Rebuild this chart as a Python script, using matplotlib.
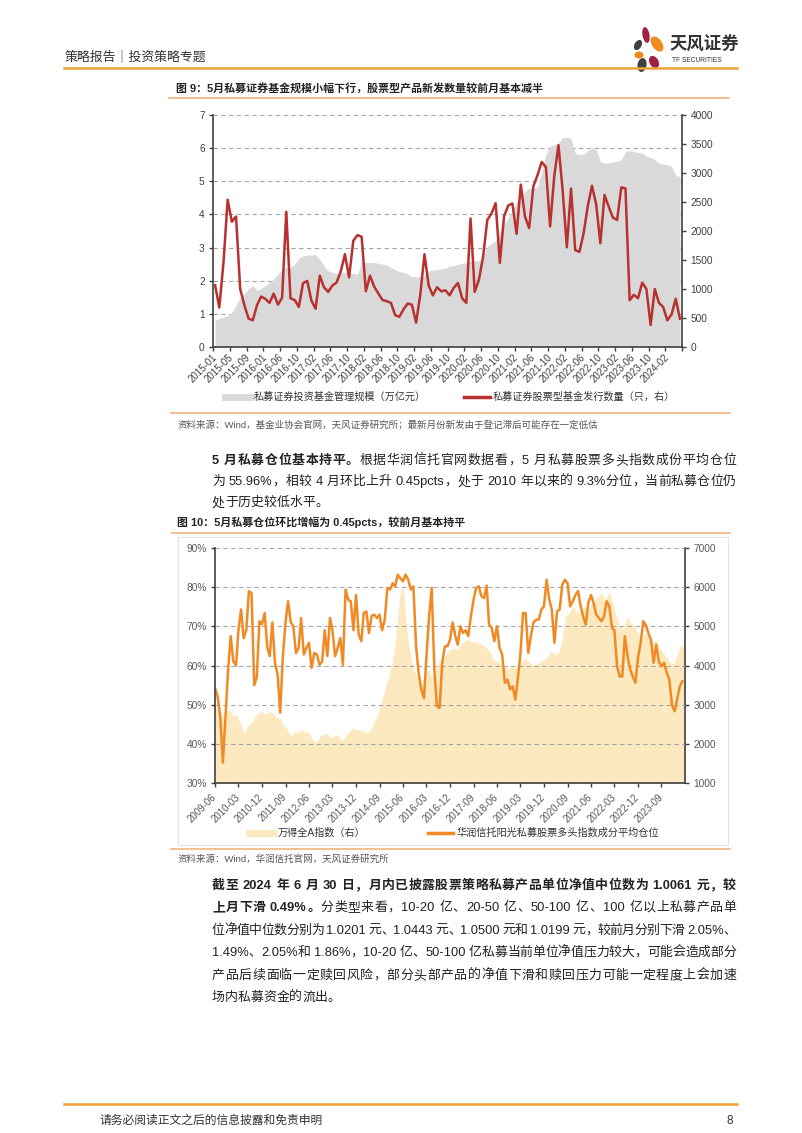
import numpy as np
import pandas as pd
import matplotlib
matplotlib.use('Agg')
import matplotlib.pyplot as plt
from matplotlib.patches import Ellipse, Rectangle
from matplotlib.lines import Line2D

plt.rcParams['font.family'] = ['Liberation Sans', 'Noto Sans CJK SC']
plt.rcParams['axes.unicode_minus'] = False

W, H = 802, 1133

# ---- chart 1 : private fund AUM (left, 万亿元) and new equity funds (right, count)
c1_ticklabels = ['2015-01', '2015-05', '2015-09', '2016-01', '2016-06', '2016-10', '2017-02',
                 '2017-06', '2017-10', '2018-02', '2018-06', '2018-10', '2019-02', '2019-06',
                 '2019-10', '2020-02', '2020-06', '2020-10', '2021-02', '2021-06', '2021-10',
                 '2022-02', '2022-06', '2022-10', '2023-02', '2023-06', '2023-10', '2024-02']
c1_aum = [0.81, 0.86, 0.90, 0.95, 1.05, 1.25, 1.50, 1.62, 1.75, 1.86,
          1.70, 1.77, 1.85, 1.95, 2.05, 2.20, 2.35, 2.40, 2.40, 2.50,
          2.68, 2.75, 2.77, 2.78, 2.78, 2.65, 2.45, 2.30, 2.25, 2.22,
          2.25, 2.25, 2.22, 2.22, 2.20, 2.55, 2.55, 2.55, 2.55, 2.52,
          2.50, 2.48, 2.40, 2.33, 2.28, 2.25, 2.20, 2.12, 2.12, 2.12,
          2.15, 2.30, 2.32, 2.33, 2.36, 2.37, 2.45, 2.45, 2.50, 2.52,
          2.55, 2.58, 2.60, 2.60, 2.70, 3.05, 3.12, 3.20, 3.45, 3.70,
          3.90, 4.10, 4.40, 4.55, 4.70, 4.78, 4.80, 4.83, 5.30, 5.80,
          6.05, 6.10, 6.15, 6.32, 6.32, 6.30, 5.85, 5.80, 5.82, 5.92,
          6.00, 5.95, 5.60, 5.55, 5.55, 5.58, 5.60, 5.65, 5.90, 5.92,
          5.90, 5.87, 5.85, 5.75, 5.72, 5.66, 5.55, 5.52, 5.50, 5.45,
          5.17, 5.15]
c1_issue = [1065, 680, 1450, 2540, 2160, 2250, 1000, 720, 490, 460,
            720, 870, 830, 760, 920, 730, 850, 2330, 840, 810,
            690, 1100, 1140, 800, 660, 1230, 1030, 950, 1060, 1110,
            1300, 1600, 1200, 1830, 1930, 1900, 960, 1230, 1040, 920,
            810, 790, 760, 550, 520, 650, 750, 730, 420, 900,
            1600, 1060, 890, 1030, 960, 978, 892, 1020, 1105, 840,
            760, 2215, 950, 1160, 1554, 2190, 2300, 2480, 1450, 2250,
            2440, 2474, 1950, 2800, 2250, 2050, 2770, 2964, 3190, 3100,
            2080, 2950, 3480, 2700, 1720, 2730, 1670, 1640, 1960, 2430,
            2780, 2460, 1790, 2620, 2420, 2230, 2190, 2751, 2734, 805,
            900, 840, 1110, 1000, 380, 1000, 760, 690, 460, 560,
            830, 489]

# ---- chart 2 : private fund average position (left, %) and Wind All A (right)
c2_ticklabels = ['2009-06', '2010-03', '2010-12', '2011-09', '2012-06', '2013-03', '2013-12',
                 '2014-09', '2015-06', '2016-03', '2016-12', '2017-09', '2018-06', '2019-03',
                 '2019-12', '2020-09', '2021-06', '2022-03', '2022-12', '2023-09']
c2_position = [54.3, 52.2, 47.0, 35.2, 47.0, 59.0, 67.5, 61.0, 60.0, 69.0,
               74.3, 67.0, 69.0, 79.0, 78.5, 55.0, 57.0, 71.3, 70.5, 73.4,
               64.5, 62.4, 71.0, 60.7, 57.7, 48.0, 62.4, 71.0, 76.4, 71.0,
               70.0, 63.2, 64.5, 72.1, 62.8, 64.5, 65.8, 59.4, 63.2, 62.8,
               60.2, 61.0, 69.0, 62.4, 72.1, 69.0, 62.4, 64.5, 67.0, 60.2,
               79.4, 76.8, 76.4, 69.0, 78.0, 68.0, 66.2, 73.4, 73.8, 68.3,
               72.6, 73.0, 72.1, 73.0, 69.0, 71.7, 79.8, 79.4, 81.0, 80.2,
               83.2, 82.3, 81.5, 83.2, 81.9, 79.4, 80.2, 64.9, 58.1, 53.9,
               51.7, 62.4, 72.6, 79.8, 59.0, 49.6, 49.2, 60.7, 64.9, 64.9,
               66.6, 71.0, 67.5, 65.3, 70.0, 68.3, 69.0, 67.5, 72.6, 76.8,
               79.8, 80.2, 77.7, 77.2, 80.4, 70.4, 69.6, 66.2, 70.0, 64.5,
               62.8, 55.6, 56.4, 53.9, 54.7, 51.3, 57.0, 62.8, 73.4, 73.4,
               63.2, 67.5, 71.0, 71.7, 71.7, 74.3, 75.1, 81.9, 76.8, 74.3,
               65.8, 73.8, 74.3, 80.6, 81.9, 81.0, 75.1, 76.4, 78.0, 79.0,
               75.1, 72.6, 70.4, 76.0, 78.0, 76.0, 73.0, 72.1, 71.3, 72.6,
               76.4, 75.1, 69.6, 69.0, 59.8, 57.2, 57.2, 67.5, 62.4, 59.0,
               57.2, 55.6, 61.9, 65.8, 71.3, 70.4, 68.3, 66.6, 60.7, 65.3,
               61.0, 59.8, 60.7, 58.1, 56.4, 50.0, 48.3, 51.3, 54.7, 55.96]
c2_wind_a = [2961, 2834, 2706, 2834, 2876, 2706, 2748, 2536, 2281,
             2451, 2536, 2706, 2791, 2834, 2748, 2834, 2791, 2664, 2664,
             2451, 2366, 2196, 2323, 2281, 2366, 2298, 2281, 2111, 2026,
             2196, 2264, 2281, 2153, 2196, 2238, 2068, 2196, 2298, 2408,
             2366, 2366, 2323, 2281, 2366, 2536, 2748, 3046, 3386, 3726,
             4066, 4662, 5700, 6100, 4917, 4322, 3896, 3726, 3386, 3811,
             3896, 3684, 3896, 4066, 4237, 4279, 4407, 4449, 4407, 4534,
             4619, 4662, 4619, 4577, 4577, 4534, 4449, 4364, 4151, 4109,
             4066, 3981, 3896, 3981, 3939, 3981, 4109, 4194, 4066, 4024,
             4024, 4109, 4151, 4237, 4364, 4279, 4322, 4662, 5257, 5342,
             5512, 5384, 5342, 5512, 5342, 5555, 5640, 5767, 5852, 5682,
             5895, 5597, 5257, 5002, 4917, 5257, 5087, 5002, 4832, 4662,
             4832, 4789, 4577, 4662, 4449, 4322, 4194, 4066, 4066, 4322,
             4534, 4449]

ORANGE = '#f0a33a'
LIGHT_OR = '#f4b37a'
TXT = '#222222'


def px_axes(fig, x0, y0, x1, y1):
    # axes from page pixel box (top-left origin)
    return fig.add_axes([x0 / W, 1 - y1 / H, (x1 - x0) / W, (y1 - y0) / H])


_adv = {}


def advance(s, bold, size):
    # advance width of a string = width('|s|') - width('||')
    key = (s, bold, size)
    if key not in _adv:
        r = fig.canvas.get_renderer()
        fw = 'bold' if bold else 'normal'
        t1 = page.text(0, 0, '|' + s + '|', fontsize=size, fontweight=fw)
        t0 = page.text(0, 0, '||', fontsize=size, fontweight=fw)
        _adv[key] = t1.get_window_extent(r).width - t0.get_window_extent(r).width
        t1.remove()
        t0.remove()
    return _adv[key]


def tokens(parts):
    # CJK chars one by one, latin runs kept together, spaces as bare gaps
    out = []
    for s, b in parts:
        run = ''
        for c in s:
            if c.isascii() and c != ' ':
                run += c
                continue
            if run:
                out.append((run, b))
                run = ''
            out.append((c, b))
        if run:
            out.append((run, b))
    return out


def body_line(y, parts, size, x0=212, x1=736, justify=True):
    # one paragraph line spread to fill x0..x1 like the justified original
    toks = tokens(parts)
    widths = [advance(t, b, size) for t, b in toks]
    extra = (x1 - x0 - sum(widths)) / (len(toks) - 1) if justify else 0.0
    x = x0
    for (t, b), w in zip(toks, widths):
        if t != ' ':
            page.text(x, y, t, fontsize=size, color=TXT, va='center',
                      fontweight='bold' if b else 'normal')
        x += w + extra


fig = plt.figure(figsize=(W / 100, H / 100), dpi=100)
page = fig.add_axes([0, 0, 1, 1])
page.set_xlim(0, W)
page.set_ylim(H, 0)
page.axis('off')

# header
page.text(65, 57, '策略报告｜投资策略专题', fontsize=9.3, color='#333333', va='center')
page.plot([64, 737], [68, 68], color=ORANGE, lw=1.8)
for (cx, cy, w, h, a, c) in [(646, 35, 7, 16, -10, '#a3203f'), (657, 44, 10, 17, -35, '#f08c1e'),
                             (638, 45, 7, 11, 30, '#404040'), (639, 55, 9, 7, 0, '#f08c1e'),
                             (642, 65, 9, 14, 10, '#404040'), (654, 62, 9, 13, -30, '#a3203f')]:
    page.add_patch(Ellipse((cx, cy), w, h, angle=a, color=c, lw=0))
page.text(669, 44, '天风证券', fontsize=12.5, fontweight='bold', color='#333333', va='center')
page.text(672, 61, 'TF SECURITIES', fontsize=4.8, color='#333333', va='center')

# figure 9
page.text(176, 88, '图 9：5月私募证券基金规模小幅下行，股票型产品新发数量较前月基本减半',
          fontsize=7.9, fontweight='bold', color=TXT, va='center')
page.plot([169, 729], [98, 98], color=LIGHT_OR, lw=1.2)

ax1 = px_axes(fig, 213, 115, 682, 347)
x1 = np.arange(len(c1_aum))
ax1.fill_between(x1, 0, c1_aum, color='#d9d9d9', lw=0)
ax1.set_xlim(-0.5, len(x1) - 0.5)
ax1.set_ylim(0, 7)
ax1.set_yticks(range(0, 8))
ax1.yaxis.grid(True, ls=(0, (4, 3)), color='#a6a6a6', lw=0.8)
ax1.set_axisbelow(True)
ax1.set_xticks(x1[::4])
ax1.set_xticklabels(c1_ticklabels, rotation=45, ha='right', va='center', rotation_mode='anchor')
ax1.set_xticks(np.arange(-0.5, len(x1), 4), minor=True)
ax1.tick_params(axis='x', which='major', length=0, pad=6, labelsize=7, labelcolor='#404040')
ax1.tick_params(axis='x', which='minor', length=3, width=1, color='#404040')
ax1.tick_params(axis='y', length=3, width=1, color='#404040', labelsize=7.3, labelcolor='#404040', pad=3)
ax1b = ax1.twinx()
ax1b.plot(x1, c1_issue, color='#b8312f', lw=1.8)
ax1b.set_ylim(0, 4000)
ax1b.set_yticks(range(0, 4001, 500))
ax1b.tick_params(axis='y', length=3, width=1, color='#404040', labelsize=7.3, labelcolor='#404040', pad=3)
for a in (ax1, ax1b):
    for s in a.spines.values():
        s.set_color('#404040')
        s.set_linewidth(1.2)
    a.spines['top'].set_visible(False)
ax1.spines['right'].set_visible(False)
ax1b.spines['left'].set_visible(False)
ax1b.spines['bottom'].set_visible(False)

h1 = [Line2D([], [], color='#d9d9d9', lw=5), Line2D([], [], color='#b8312f', lw=2.5)]
fig.legend(h1, ['私募证券投资基金管理规模（万亿元）', '私募证券股票型基金发行数量（只，右）'],
           loc='center', bbox_to_anchor=(450 / W, 1 - 397 / H), ncol=2, frameon=False,
           fontsize=7.3, handlelength=2.5, handletextpad=0.3, columnspacing=3.8,
           labelcolor='#333333')

page.plot([171, 730], [413, 413], color=LIGHT_OR, lw=1.2)
page.text(178, 425, '资料来源：Wind，基金业协会官网，天风证券研究所；最新月份新发由于登记滞后可能存在一定低估',
          fontsize=6.8, color='#555555', va='center')

# paragraph 1
P = 9.3
body_line(461, [('5 月私募仓位基本持平。', True),
                ('根据华润信托官网数据看，5 月私募股票多头指数成份平均仓位', False)], P)
body_line(482, [('为 55.96%，相较 4 月环比上升 0.45pcts，处于 2010 年以来的 9.3%分位，当前私募仓位仍', False)], P)
body_line(503, [('处于历史较低水平。', False)], P, justify=False)

# figure 10
page.text(177, 522, '图 10：5月私募仓位环比增幅为 0.45pcts，较前月基本持平',
          fontsize=7.9, fontweight='bold', color=TXT, va='center')
page.plot([172, 730], [533, 533], color=LIGHT_OR, lw=1.2)
page.add_patch(Rectangle((178, 537), 550, 308, fill=False, ec='#e3e3e3', lw=0.8))

ax2 = px_axes(fig, 215, 548, 685, 783)
ax2r = ax2.twinx()
ax2.set_zorder(ax2r.get_zorder() + 1)
ax2.patch.set_visible(False)
months = pd.date_range('2009-06-01', periods=len(c2_position), freq='MS')
wind_dates = pd.date_range('2009-06-01', '2024-05-31', periods=len(c2_wind_a))
ax2r.fill_between(wind_dates, 0, c2_wind_a, color='#fde9bf', lw=0)
ax2.plot(months, c2_position, color='#f08a24', lw=1.8)
ax2.set_xlim(pd.Timestamp('2009-06-01'), pd.Timestamp('2024-06-01'))
ax2.set_ylim(30, 90)
ax2.set_yticks(range(30, 91, 10))
ax2.set_yticklabels([f'{v}%' for v in range(30, 91, 10)])
ax2.yaxis.grid(True, ls=(0, (4, 3)), color='#a6a6a6', lw=0.8)
ax2r.set_ylim(1000, 7000)
ax2r.set_yticks(range(1000, 7001, 1000))
ax2.set_xticks(pd.to_datetime(c2_ticklabels))
ax2.set_xticklabels(c2_ticklabels, rotation=45, ha='right', va='center', rotation_mode='anchor')
ax2.tick_params(axis='x', length=3, width=1, color='#404040', pad=6, labelsize=7, labelcolor='#595959')
ax2.tick_params(axis='y', length=3, width=1, color='#404040', labelsize=7.3, labelcolor='#595959', pad=3)
ax2r.tick_params(axis='y', length=3, width=1, color='#404040', labelsize=7.3, labelcolor='#595959', pad=3)
for a in (ax2, ax2r):
    for s in a.spines.values():
        s.set_color('#404040')
        s.set_linewidth(1.2)
    a.spines['top'].set_visible(False)
ax2.spines['right'].set_visible(False)
ax2r.spines['left'].set_visible(False)
ax2r.spines['bottom'].set_visible(False)

h2 = [Line2D([], [], color='#fde9bf', lw=5), Line2D([], [], color='#f08a24', lw=2.5)]
fig.legend(h2, ['万得全A指数（右）', '华润信托阳光私募股票多头指数成分平均仓位'],
           loc='center', bbox_to_anchor=(454 / W, 1 - 833 / H), ncol=2, frameon=False,
           fontsize=7.3, handlelength=2.5, handletextpad=0.3, columnspacing=6.2,
           labelcolor='#333333')

page.plot([171, 730], [849, 849], color=LIGHT_OR, lw=1.2)
page.text(178, 859, '资料来源：Wind，华润信托官网，天风证券研究所', fontsize=6.8, color='#555555', va='center')

# paragraph 2
body_line(886, [('截至 2024 年 6 月 30 日，月内已披露股票策略私募产品单位净值中位数为 1.0061 元，较', True)], P)
body_line(908, [('上月下滑 0.49%。', True),
                ('分类型来看，10-20 亿、20-50 亿、50-100 亿、100 亿以上私募产品单', False)], P)
body_line(931, [('位净值中位数分别为 1.0201 元、1.0443 元、1.0500 元和 1.0199 元，较前月分别下滑 2.05%、', False)], P)
body_line(953, [('1.49%、2.05%和 1.86%，10-20 亿、50-100 亿私募当前单位净值压力较大，可能会造成部分', False)], P)
body_line(976, [('产品后续面临一定赎回风险，部分头部产品的净值下滑和赎回压力可能一定程度上会加速', False)], P)
body_line(998, [('场内私募资金的流出。', False)], P, justify=False)

# footer
page.plot([64, 737], [1104, 1104], color=ORANGE, lw=1.8)
page.text(100, 1121, '请务必阅读正文之后的信息披露和免责申明', fontsize=8.5, color='#333333', va='center')
page.text(733, 1121, '8', fontsize=8.5, color='#333333', va='center', ha='right')

fig.savefig('out.png', dpi=100)
